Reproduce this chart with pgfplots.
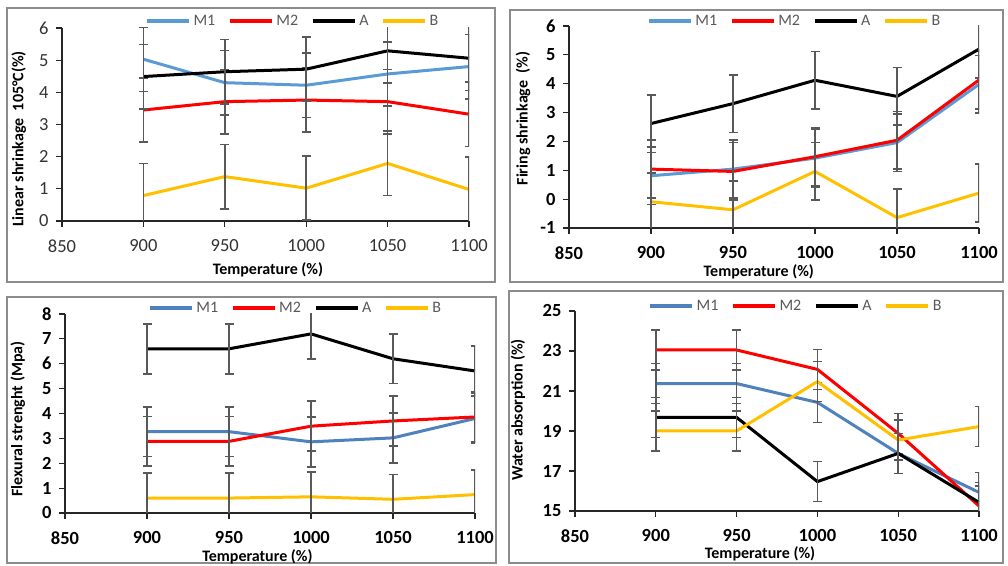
\documentclass[border=0pt]{standalone}
\usepackage{fontspec}
\setmainfont{Carlito}
\usepackage{pgfplots}
\pgfplotsset{compat=1.18}

\definecolor{mone}{HTML}{5B9BD5}
\definecolor{monedark}{HTML}{4F81BD}
\definecolor{mtwo}{HTML}{FF0000}
\definecolor{bgold}{HTML}{FFC000}
\definecolor{errgray}{HTML}{595959}
\definecolor{boxgray}{HTML}{8C8C8C}
\definecolor{legtext}{HTML}{595959}

\newcommand{\tickfont}{\fontsize{18.5bp}{20bp}\selectfont}
\newcommand{\labfont}{\fontsize{16bp}{18bp}\selectfont\bfseries}

\pgfplotsset{
  errb/.style={
    line width=3bp, line join=round,
    error bars/.cd,
      y dir=both, y explicit,
      error bar style={line width=1.7bp, draw=errgray},
      error mark options={rotate=90, line width=1.7bp, draw=errgray, mark size=4.5bp},
  },
  panel/.style={
    scale only axis,
    anchor=south west,
    enlargelimits=false,
    axis lines*=left,
    xmin=850, xmax=1100,
    xtick={850,900,...,1100},
    tick align=outside,
    major tick length=6bp,
    every tick/.style={black!85, line width=1.2bp},
    axis line style={black!85, line width=1.2bp},
    /pgf/number format/assume math mode=true,
    /pgf/number format/1000 sep={},
    tick label style={font=\tickfont\bfseries},
    xticklabel style={yshift=-9bp},
    yticklabel style={xshift=-4bp},
    label style={font=\labfont},
    legend columns=4,
    legend style={draw=none, fill=none, anchor=west, inner sep=0pt,
      font=\fontsize{16bp}{18bp}\selectfont, text=legtext,
      /tikz/every even column/.append style={column sep=10bp},
      nodes={inner xsep=2.8bp}},
    legend image code/.code={\draw[##1, line width=3.5bp] (0bp,0bp) -- (42bp,0bp);},
  },
}

\begin{document}
\begin{tikzpicture}[x=1bp,y=1bp]
\useasboundingbox (0,0) rectangle (1008,566);

% panel frames
\draw[boxgray, line width=1.5bp] (7,284) rectangle (495,558);
\draw[boxgray, line width=1.5bp] (510,284) rectangle (1003,556);
\draw[boxgray, line width=1.5bp] (7,3) rectangle (496,269);
\draw[boxgray, line width=1.5bp] (509,3) rectangle (1003,275);

% ---- Linear shrinkage
\begin{axis}[panel,
  at={(62bp,345bp)}, width=407bp, height=193bp,
  ymin=0, ymax=6, ytick={0,1,...,6},
  tick label style={font=\tickfont\mdseries, text=black!80},
  xlabel={Temperature (\%)}, ylabel={Linear shrinkage\ \ 105°C(\%)},
  xlabel style={at={(axis description cs:0.506,-0.254)}, anchor=center},
  ylabel style={at={(axis description cs:-0.106,0.425)}, anchor=center, rotate=0},
  legend style={at={(0.204,1.036)}},
]
\addplot[mone, errb] coordinates {(900,5.03) +- (0,1) (950,4.30) +- (0,1) (1000,4.22) +- (0,1) (1050,4.57) +- (0,1) (1100,4.80) +- (0,1)};
\addplot[mtwo, errb] coordinates {(900,3.45) +- (0,1) (950,3.71) +- (0,1) (1000,3.76) +- (0,1) (1050,3.71) +- (0,1) (1100,3.32) +- (0,1)};
\addplot[black, errb] coordinates {(900,4.49) +- (0,1) (950,4.64) +- (0,1) (1000,4.72) +- (0,1) (1050,5.29) +- (0,1) (1100,5.06) +- (0,1)};
\addplot[bgold, errb] coordinates {(900,0.79) +- (0,1) (950,1.38) +- (0,1) (1000,1.02) +- (0,1) (1050,1.79) +- (0,1) (1100,0.98) +- (0,1)};
\legend{M1,M2,A,B}
\end{axis}

% ---- Firing shrinkage
\begin{axis}[panel,
  at={(569bp,338bp)}, width=410bp, height=202bp,
  ymin=-1, ymax=6, ytick={-1,0,...,6},
  xlabel={Temperature (\%)}, ylabel={Firing shrinkage\ \ (\%)},
  xlabel style={at={(axis description cs:0.463,-0.218)}, anchor=center},
  ylabel style={at={(axis description cs:-0.112,0.542)}, anchor=center, rotate=0},
  legend style={at={(0.190,1.025)}},
]
\addplot[mone, errb] coordinates {(900,0.81) +- (0,1) (950,1.04) +- (0,1) (1000,1.42) +- (0,1) (1050,1.96) +- (0,1) (1100,3.98) +- (0,1)};
\addplot[mtwo, errb] coordinates {(900,1.04) +- (0,1) (950,0.96) +- (0,1) (1000,1.47) +- (0,1) (1050,2.04) +- (0,1) (1100,4.13) +- (0,1)};
\addplot[black, errb] coordinates {(900,2.62) +- (0,1) (950,3.31) +- (0,1) (1000,4.12) +- (0,1) (1050,3.56) +- (0,1) (1100,5.20) +- (0,1)};
\addplot[bgold, errb] coordinates {(900,-0.09) +- (0,1) (950,-0.37) +- (0,1) (1000,0.96) +- (0,1) (1050,-0.64) +- (0,1) (1100,0.21) +- (0,1)};
\legend{M1,M2,A,B}
\end{axis}

% ---- Flexural strength
\begin{axis}[panel,
  at={(65bp,53bp)}, width=410bp, height=199bp,
  ymin=0, ymax=8, ytick={0,1,...,8},
  xlabel={Temperature (\%)}, ylabel={Flexural strenght (Mpa)},
  xlabel style={at={(axis description cs:0.4695,-0.221)}, anchor=center},
  ylabel style={at={(axis description cs:-0.115,0.472)}, anchor=center, rotate=0},
  legend style={at={(0.202,1.030)}},
]
\addplot[monedark, errb] coordinates {(900,3.27) +- (0,1) (950,3.27) +- (0,1) (1000,2.86) +- (0,1) (1050,3.02) +- (0,1) (1100,3.80) +- (0,1)};
\addplot[mtwo, errb] coordinates {(900,2.88) +- (0,1) (950,2.88) +- (0,1) (1000,3.49) +- (0,1) (1050,3.70) +- (0,1) (1100,3.86) +- (0,1)};
\addplot[black, errb] coordinates {(900,6.60) +- (0,1) (950,6.60) +- (0,1) (1000,7.20) +- (0,1) (1050,6.20) +- (0,1) (1100,5.71) +- (0,1)};
\addplot[bgold, errb] coordinates {(900,0.60) +- (0,1) (950,0.60) +- (0,1) (1000,0.65) +- (0,1) (1050,0.55) +- (0,1) (1100,0.74) +- (0,1)};
\legend{M1,M2,A,B}
\end{axis}

% ---- Water absorption
\begin{axis}[panel,
  at={(575bp,55bp)}, width=404bp, height=200bp,
  ymin=15, ymax=25, ytick={15,17,...,25},
  xlabel={Temperature (\%)}, ylabel={Water absorption (\%)},
  xlabel style={at={(axis description cs:0.458,-0.215)}, anchor=center},
  ylabel style={at={(axis description cs:-0.141,0.505)}, anchor=center, rotate=0},
  legend style={at={(0.181,1.025)}},
]
\addplot[monedark, errb] coordinates {(900,21.37) +- (0,1) (950,21.37) +- (0,1) (1000,20.43) +- (0,1) (1050,17.88) +- (0,1) (1100,15.93) +- (0,1)};
\addplot[mtwo, errb] coordinates {(900,23.05) +- (0,1) (950,23.05) +- (0,1) (1000,22.08) +- (0,1) (1050,18.88) +- (0,1) (1100,15.25) +- (0,1)};
\addplot[black, errb] coordinates {(900,19.68) +- (0,1) (950,19.68) +- (0,1) (1000,16.47) +- (0,1) (1050,17.88) +- (0,1) (1100,15.43) +- (0,1)};
\addplot[bgold, errb] coordinates {(900,19.00) +- (0,1) (950,19.00) +- (0,1) (1000,21.47) +- (0,1) (1050,18.55) +- (0,1) (1100,19.22) +- (0,1)};
\legend{M1,M2,A,B}
\end{axis}
\end{tikzpicture}
\end{document}
